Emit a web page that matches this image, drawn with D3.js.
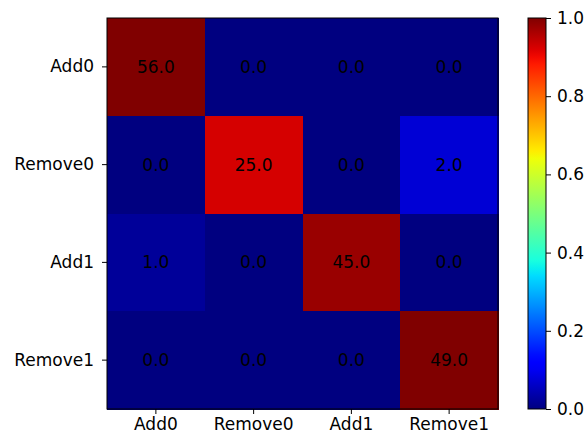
<!DOCTYPE html>
<html>
<head>
<meta charset="utf-8">
<script src="https://cdn.jsdelivr.net/npm/d3@7"></script>
<style>
body { margin: 0; background: #fff; }
text { font-family: "DejaVu Sans", sans-serif; }
</style>
</head>
<body>
<svg id="chart" width="588" height="438"></svg>
<script>
// 类别和计数
var classes = ["Add0", "Remove0", "Add1", "Remove1"];
var counts = [
    [56, 0, 0, 0],
    [0, 25, 0, 2],
    [1, 0, 45, 0],
    [0, 0, 0, 49]
];
var barTicks = [0.0, 0.2, 0.4, 0.6, 0.8, 1.0];

// matplotlib jet 色表
var jetR = d3.scaleLinear().domain([0, 0.35, 0.66, 0.89, 1]).range([0, 0, 1, 1, 0.5]).clamp(true);
var jetG = d3.scaleLinear().domain([0, 0.125, 0.375, 0.64, 0.91, 1]).range([0, 0, 1, 1, 0, 0]).clamp(true);
var jetB = d3.scaleLinear().domain([0, 0.11, 0.34, 0.65, 1]).range([0.5, 1, 1, 0, 0]).clamp(true);
var jet = function(t) {
    return d3.rgb(jetR(t) * 255, jetG(t) * 255, jetB(t) * 255).toString();
};

var svg = d3.select("#chart");
var plotLeft = 107, plotTop = 18, size = 391;
var fontSize = "17px";

var xScale = d3.scaleBand().domain(classes).range([plotLeft, plotLeft + size]);
var yScale = d3.scaleBand().domain(classes).range([plotTop, plotTop + size]);

// 按行归一化
var cells = [];
counts.forEach(function(row, i) {
    var sum = d3.sum(row);
    row.forEach(function(v, j) {
        cells.push({ r: classes[i], c: classes[j], v: v, n: v / sum });
    });
});

svg.selectAll("rect.cell")
    .data(cells)
    .enter()
    .append("rect")
    .attr("class", "cell")
    .attr("x", d => xScale(d.c))
    .attr("y", d => yScale(d.r))
    .attr("width", xScale.bandwidth() + 1)
    .attr("height", yScale.bandwidth() + 1)
    .attr("shape-rendering", "crispEdges")
    .attr("fill", d => jet(d.n));

svg.selectAll("text.val")
    .data(cells)
    .enter()
    .append("text")
    .attr("class", "val")
    .attr("x", d => xScale(d.c) + xScale.bandwidth() / 2)
    .attr("y", d => yScale(d.r) + yScale.bandwidth() / 2)
    .attr("text-anchor", "middle")
    .attr("dominant-baseline", "central")
    .style("font-size", fontSize)
    .attr("fill", "#000")
    .text(d => d.v.toFixed(1));

svg.append("rect")
    .attr("x", plotLeft).attr("y", plotTop)
    .attr("width", size).attr("height", size)
    .attr("fill", "none").attr("stroke", "#000").attr("stroke-width", 1);

var xAxis = d3.axisBottom(xScale).tickSize(5).tickPadding(4);
var yAxis = d3.axisLeft(yScale).tickSize(5).tickPadding(8);

var gx = svg.append("g").attr("transform", `translate(0, ${plotTop + size})`).call(xAxis);
var gy = svg.append("g").attr("transform", `translate(${plotLeft}, 0)`).call(yAxis);
[gx, gy].forEach(function(g) {
    g.select(".domain").remove();
    g.selectAll("text").style("font-size", fontSize).attr("fill", "#000");
});

// 颜色条
var barX = 528, barW = 18;
var cScale = d3.scaleLinear().domain([0, 1]).range([plotTop + size, plotTop]);
var defs = svg.append("defs");
var grad = defs.append("linearGradient").attr("id", "jetgrad")
    .attr("x1", 0).attr("y1", 1).attr("x2", 0).attr("y2", 0);
d3.range(0, 1.0001, 0.02).forEach(function(t) {
    grad.append("stop").attr("offset", t).attr("stop-color", jet(t));
});
svg.append("rect")
    .attr("x", barX).attr("y", plotTop)
    .attr("width", barW).attr("height", size)
    .attr("fill", "url(#jetgrad)")
    .attr("stroke", "#000").attr("stroke-width", 1);

var cAxis = d3.axisRight(cScale).tickValues(barTicks).tickFormat(d3.format(".1f")).tickSize(5).tickPadding(6);
var gc = svg.append("g").attr("transform", `translate(${barX + barW}, 0)`).call(cAxis);
gc.select(".domain").remove();
gc.selectAll("text").style("font-size", fontSize).attr("fill", "#000");
</script>
</body>
</html>
